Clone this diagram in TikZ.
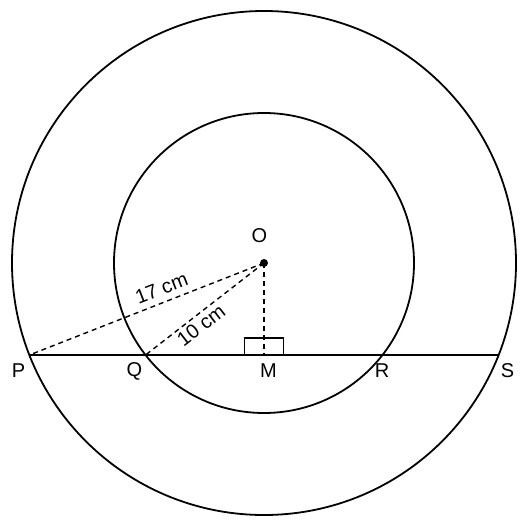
\documentclass[tikz,border=0pt]{standalone}
\usepackage{fontspec}
\setmainfont{Liberation Sans}
\usetikzlibrary{calc}
\begin{document}
\begin{tikzpicture}[x=1pt,y=-1pt,
  solidline/.style={line width=1.8pt,black},
  dashline/.style={line width=1.4pt,dash pattern=on 5pt off 4pt},
  lbl/.style={font=\fontsize{20}{24}\selectfont,inner sep=0pt}]
\useasboundingbox (0,0) rectangle (530,522);
\coordinate (O) at (264,263);
\coordinate (P) at (29.4,355);
\coordinate (Q) at (145.5,355);
\coordinate (M) at (264,355);
\coordinate (R) at (382.5,355);
\coordinate (S) at (498.6,355);
% circles
\draw[solidline] (O) circle[radius=252];
\draw[solidline] (O) circle[radius=150];
% chord
\draw[solidline] (P) -- (S);
% right-angle marker
\draw[line width=1.4pt] ($(M)+(-19.5,0)$) rectangle ($(M)+(19.5,-17)$);
% dashed lines
\draw[dashline] (O) -- (P);
\draw[dashline] (O) -- (Q);
\draw[dashline] (O) -- (M);
\fill (O) circle[radius=4];
% labels
\node[lbl] (lO) at (259.5,235.5) {O};
\node[lbl] (lP) at (18.5,371) {P};
\node[lbl] (lQ) at (134.5,371) {Q};
\node[lbl] (lM) at (268.5,371) {M};
\node[lbl] (lR) at (382,371) {R};
\node[lbl] (lS) at (507.5,371) {S};
\node[lbl,rotate=21.2] (l17) at (161.5,288) {17 cm};
\node[lbl,rotate=37.5] (l10) at (201,325) {10 cm};
\end{tikzpicture}
\end{document}
